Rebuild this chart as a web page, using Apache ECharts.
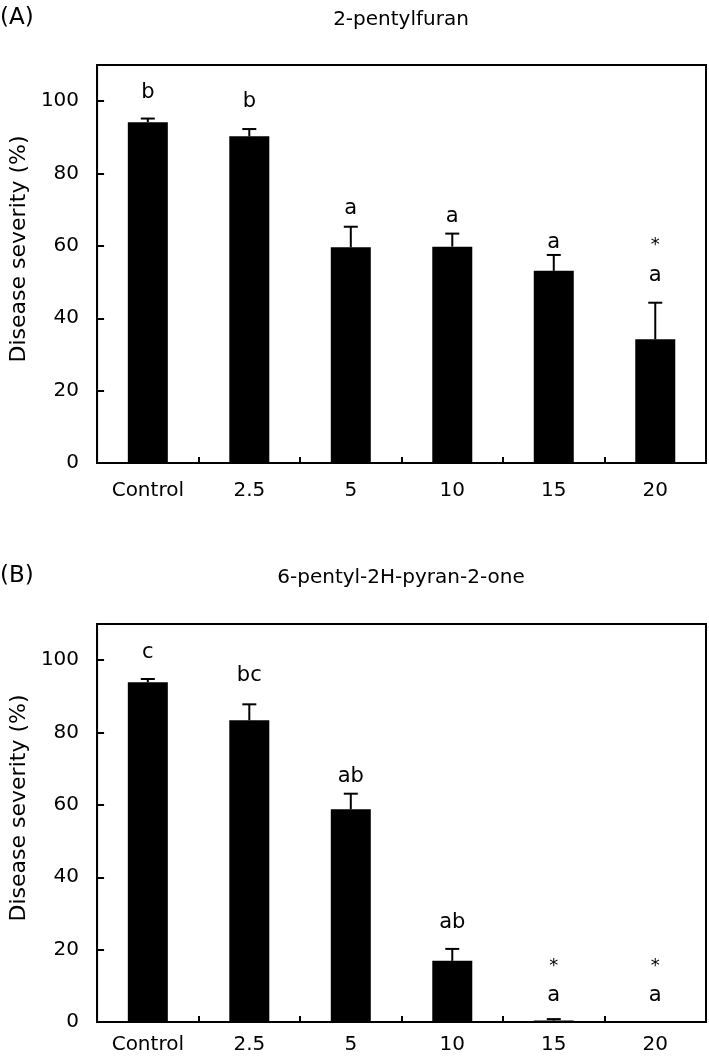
<!DOCTYPE html>
<html>
<head>
<meta charset="utf-8">
<script src="https://cdn.jsdelivr.net/npm/echarts@6/dist/echarts.min.js"></script>
<style>
html,body{margin:0;padding:0;background:#fff;}
#chart{width:709px;height:1061px;}
</style>
</head>
<body>
<div id="chart"></div>
<script>
const categories = ['Control', '2.5', '5', '10', '15', '20'];
const yTicks = [0, 20, 40, 60, 80, 100];
const yMax = 110;

const titleA = '2-pentylfuran';
const severityA = [94.2, 90.3, 59.6, 59.8, 53.1, 34.2];
const errorA = [1.0, 2.0, 5.7, 3.6, 4.4, 10.1];
const lettersA = ['b', 'b', 'a', 'a', 'a', 'a'];
const letterYA = [102.5, 99.8, 70.4, 68.1, 60.8, 51.7];
const starYA = [null, null, null, null, null, 60.2];

const titleB = '6-pentyl-2H-pyran-2-one';
const severityB = [93.9, 83.4, 58.8, 16.9, 0.4, 0];
const errorB = [0.9, 4.4, 4.3, 3.3, 0.4, 0];
const lettersB = ['c', 'bc', 'ab', 'ab', 'a', 'a'];
const letterYB = [102.2, 95.8, 67.9, 27.6, 7.2, 7.2];
const starYB = [null, null, null, null, 15.3, 15.3];

const FONT = 'DejaVu Sans';
const chart = echarts.init(document.getElementById('chart'), null, {renderer: 'canvas'});

const grids = [
  {left: 96, right: 3, top: 65, height: 398},
  {left: 96, right: 3, top: 624, height: 398}
];

function xAxisFor(i) {
  return {
    type: 'category', gridIndex: i, data: categories, boundaryGap: true,
    axisLine: {show: true, lineStyle: {color: '#000', width: 2}},
    axisTick: {show: true, inside: true, length: 6, lineStyle: {color: '#000', width: 2}},
    axisLabel: {color: '#000', fontSize: 20, fontFamily: FONT, margin: i === 0 ? 18 : 13},
    splitLine: {show: false}
  };
}
function yAxisFor(i) {
  return {
    type: 'value', gridIndex: i, min: yTicks[0], max: yMax, interval: yTicks[1] - yTicks[0],
    name: 'Disease severity (%)', nameLocation: 'middle', nameGap: 64,
    nameTextStyle: {color: '#000', fontSize: 22, fontFamily: FONT, padding: [0, 0, 0, 30]},
    axisLine: {show: true, lineStyle: {color: '#000', width: 2}},
    axisTick: {show: true, inside: true, length: 7, lineStyle: {color: '#000', width: 2}},
    axisLabel: {color: '#000', fontSize: 20, fontFamily: FONT, margin: 18, showMaxLabel: false,
      formatter: v => (yTicks.indexOf(v) >= 0 ? String(v) : '')},
    splitLine: {show: false}
  };
}

function errorSeries(i, vals, errs) {
  return {
    type: 'custom', xAxisIndex: i, yAxisIndex: i, z: 3,
    data: vals.map((v, k) => [k, v, errs[k]]),
    renderItem: function (params, api) {
      const e = api.value(2);
      if (!e) return null;
      const base = api.coord([api.value(0), api.value(1)]);
      const top = api.coord([api.value(0), api.value(1) + e]);
      const hw = 7;
      const style = {stroke: '#000', lineWidth: 2};
      return {
        type: 'group',
        children: [
          {type: 'line', shape: {x1: base[0], y1: base[1], x2: top[0], y2: top[1]}, style: style},
          {type: 'line', shape: {x1: top[0] - hw, y1: top[1], x2: top[0] + hw, y2: top[1]}, style: style}
        ]
      };
    }
  };
}

function textSeries(i, ys, texts, size) {
  return {
    type: 'custom', xAxisIndex: i, yAxisIndex: i, z: 4, silent: true,
    data: ys.map((y, k) => (y == null ? null : [k, y, k])).filter(d => d),
    renderItem: function (params, api) {
      const p = api.coord([api.value(0), api.value(1)]);
      return {
        type: 'text', x: p[0], y: p[1],
        style: {text: texts[api.value(2)], fill: '#000', font: size + 'px "' + FONT + '"', align: 'center', verticalAlign: 'middle'}
      };
    }
  };
}

function barSeries(i, vals) {
  return {
    type: 'bar', xAxisIndex: i, yAxisIndex: i, data: vals, barWidth: 40,
    itemStyle: {color: '#000'}, z: 2
  };
}

const option = {
  backgroundColor: '#fff',
  animation: false,
  grid: grids.map(g => Object.assign({show: true, borderColor: '#000', borderWidth: 2, backgroundColor: 'transparent'}, g)),
  xAxis: [xAxisFor(0), xAxisFor(1)],
  yAxis: [yAxisFor(0), yAxisFor(1)],
  graphic: [
    {type: 'text', left: 0, top: 7, style: {text: '(A)', font: '23px "' + FONT + '"', fill: '#000'}},
    {type: 'text', x: 401, y: 20, style: {text: titleA, font: '20px "' + FONT + '"', fill: '#000', align: 'center', verticalAlign: 'middle'}},
    {type: 'text', left: 0, top: 565, style: {text: '(B)', font: '23px "' + FONT + '"', fill: '#000'}},
    {type: 'text', x: 401, y: 578, style: {text: titleB, font: '20px "' + FONT + '"', fill: '#000', align: 'center', verticalAlign: 'middle'}}
  ],
  series: [
    barSeries(0, severityA),
    errorSeries(0, severityA, errorA),
    textSeries(0, letterYA, lettersA, 21),
    textSeries(0, starYA, starYA.map(() => '*'), 18),
    barSeries(1, severityB),
    errorSeries(1, severityB, errorB),
    textSeries(1, letterYB, lettersB, 21),
    textSeries(1, starYB, starYB.map(() => '*'), 18)
  ]
};
chart.setOption(option);
</script>
</body>
</html>
